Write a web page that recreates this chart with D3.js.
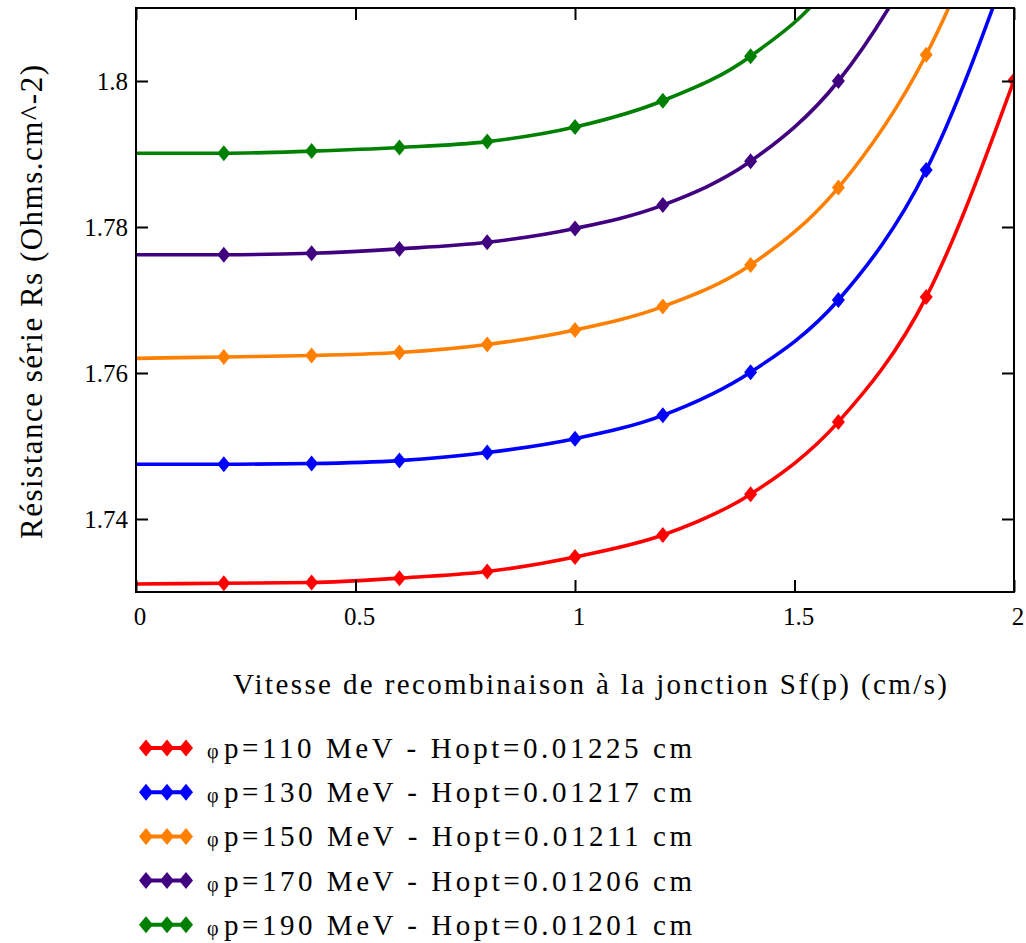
<!DOCTYPE html>
<html>
<head>
<meta charset="utf-8">
<script src="https://cdn.jsdelivr.net/npm/d3@7"></script>
</head>
<body style="margin:0">
<svg id="chart" width="1026" height="943"></svg>
<script>
// Sf(p) sample points (cm/s)
const sfValues = [0, 0.2, 0.4, 0.6, 0.8, 1.0, 1.2, 1.4, 1.6, 1.8, 2.0];

// Rs values (points past the top edge are estimates, clipped)
const rs110 = [1.7311, 1.7312, 1.7313, 1.7319, 1.7328, 1.7348, 1.7378, 1.7434, 1.7533, 1.7704, 1.8001];
const rs130 = [1.7475, 1.7475, 1.7476, 1.7480, 1.7491, 1.7510, 1.7542, 1.7601, 1.7700, 1.7878, 1.8180];
const rs150 = [1.7620, 1.7622, 1.7624, 1.7628, 1.7639, 1.7659, 1.7691, 1.7748, 1.7854, 1.8036, 1.8320];
const rs170 = [1.7762, 1.7762, 1.7764, 1.7770, 1.7779, 1.7798, 1.7830, 1.7890, 1.8000, 1.8190, 1.8450];
const rs190 = [1.7901, 1.7901, 1.7904, 1.7909, 1.7917, 1.7937, 1.7973, 1.8034, 1.8150, 1.8400, 1.8800];

const seriesLabels = [
  "110 MeV - Hopt=0.01225 cm",
  "130 MeV - Hopt=0.01217 cm",
  "150 MeV - Hopt=0.01211 cm",
  "170 MeV - Hopt=0.01206 cm",
  "190 MeV - Hopt=0.01201 cm"
];
const seriesColors = ["#ff0000", "#0000ff", "#ff8000", "#400080", "#008000"];

const xTicks = [0, 0.5, 1, 1.5, 2];
const xTickLabels = ["0", "0.5", "1", "1.5", "2"];
const yTicks = [1.74, 1.76, 1.78, 1.8];
const yTickLabels = ["1.74", "1.76", "1.78", "1.8"];

const series = [rs110, rs130, rs150, rs170, rs190].map((vals, i) => ({
  label: seriesLabels[i],
  color: seriesColors[i],
  points: sfValues.map((x, j) => ({ x: x, y: vals[j] }))
}));

const FONT = "Liberation Serif";
const plotLeft = 136, plotTop = 8, plotRight = 1014, plotBottom = 592;

const svg = d3.select("#chart");

const x = d3.scaleLinear().domain([0, 2]).range([plotLeft, plotRight]);
const y = d3.scaleLinear().domain([1.73, 1.81]).range([plotBottom, plotTop]);

// Text first, set the same way as on the font test page
svg.append("text")
  .attr("class", "lbl")
  .attr("transform", "translate(42,302) rotate(-90)")
  .attr("text-anchor", "middle")
  .attr("font-family", d => FONT)
  .attr("font-size", 31)
  .attr("textLength", 474)
  .attr("lengthAdjust", "spacing")
  .text("Résistance série Rs (Ohms.cm^-2)");

svg.append("text")
  .attr("class", "lbl")
  .attr("x", 590)
  .attr("y", 694)
  .attr("text-anchor", "middle")
  .attr("font-family", d => FONT)
  .attr("font-size", 29)
  .attr("textLength", 714)
  .attr("lengthAdjust", "spacing")
  .text("Vitesse de recombinaison à la jonction Sf(p) (cm/s)");

svg.selectAll("text.xt")
  .data(xTicks)
  .join("text")
  .attr("class", "xt lbl")
  .attr("x", d => x(d) + 4)
  .attr("y", plotBottom + 33)
  .attr("text-anchor", "middle")
  .attr("font-family", d => FONT)
  .attr("font-size", 25)
  .text((d, i) => xTickLabels[i]);

svg.selectAll("text.yt")
  .data(yTicks)
  .join("text")
  .attr("class", "yt lbl")
  .attr("x", plotLeft - 8)
  .attr("y", d => y(d))
  .attr("dy", "0.35em")
  .attr("text-anchor", "end")
  .attr("font-family", d => FONT)
  .attr("font-size", 25)
  .text((d, i) => yTickLabels[i]);

svg.append("defs").append("clipPath")
  .attr("id", "plot-clip")
  .append("rect")
  .attr("x", plotLeft).attr("y", plotTop)
  .attr("width", plotRight - plotLeft).attr("height", plotBottom - plotTop);

// Curves
const line = d3.line()
  .x(d => x(d.x))
  .y(d => y(d.y))
  .curve(d3.curveMonotoneX);

const plot = svg.append("g").attr("clip-path", "url(#plot-clip)");

// slightly tall diamond, as in the Mathcad plot
function diamond(w, h) {
  return `M0,${-h}L${w},0L0,${h}L${-w},0Z`;
}

series.forEach(s => {
  plot.append("path")
    .datum(s.points)
    .attr("fill", "none")
    .attr("stroke", s.color)
    .attr("stroke-width", 3.6)
    .attr("stroke-linejoin", "round")
    .attr("d", line);

  plot.append("g")
    .selectAll("path")
    .data(s.points.filter(p => p.x > 0))
    .join("path")
    .attr("transform", d => `translate(${x(d.x)},${y(d.y)})`)
    .attr("d", diamond(6.5, 8))
    .attr("fill", s.color);
});

// Tick marks only (ticks pointing inward on all four sides), labels drawn above
const tickSize = 12;
const axes = [
  svg.append("g").attr("transform", `translate(0,${plotBottom})`)
    .call(d3.axisBottom(x).tickValues(xTicks).tickSizeInner(-tickSize).tickSizeOuter(0).tickFormat("")),
  svg.append("g").attr("transform", `translate(0,${plotTop})`)
    .call(d3.axisTop(x).tickValues(xTicks).tickSizeInner(-tickSize).tickSizeOuter(0).tickFormat("")),
  svg.append("g").attr("transform", `translate(${plotLeft},0)`)
    .call(d3.axisLeft(y).tickValues(yTicks).tickSizeInner(-tickSize).tickSizeOuter(0).tickFormat("")),
  svg.append("g").attr("transform", `translate(${plotRight},0)`)
    .call(d3.axisRight(y).tickValues(yTicks).tickSizeInner(-tickSize).tickSizeOuter(0).tickFormat(""))
];
axes.forEach(a => {
  a.select(".domain").remove();
  a.selectAll("text").remove();
  a.selectAll("line").attr("stroke", "#000").attr("stroke-width", 2);
});

// Frame
svg.append("rect")
  .attr("x", plotLeft).attr("y", plotTop)
  .attr("width", plotRight - plotLeft).attr("height", plotBottom - plotTop)
  .attr("fill", "none")
  .attr("stroke", "#000")
  .attr("stroke-width", 2);

// Legend
const legend = svg.append("g");
const legendRows = legend.selectAll("g")
  .data(series)
  .join("g")
  .attr("transform", (d, i) => `translate(0,${748 + i * 44.2})`);

legendRows.append("line")
  .attr("x1", 141).attr("x2", 191)
  .attr("stroke", d => d.color)
  .attr("stroke-width", 4);

legendRows.selectAll("path")
  .data(d => [146, 167, 186].map(px => ({ px: px, color: d.color })))
  .join("path")
  .attr("transform", d => `translate(${d.px},0)`)
  .attr("d", diamond(7, 8.5))
  .attr("fill", d => d.color);

legendRows.append("text")
  .attr("class", "lbl")
  .attr("x", 207)
  .attr("y", 10)
  .attr("font-family", d => FONT)
  .attr("font-size", 20)
  .text("φ");

legendRows.append("text")
  .attr("class", "lbl")
  .attr("x", 224)
  .attr("y", 10)
  .attr("font-family", d => FONT)
  .attr("font-size", 29)
  .attr("textLength", 468)
  .attr("lengthAdjust", "spacing")
  .text(d => "p=" + d.label);

// re-apply the family once the font is known to be ready
if (document.fonts && document.fonts.load) {
  document.fonts.load('29px "Liberation Serif"').then(() => {
    svg.selectAll("text.lbl").attr("font-family", FONT);
  });
}
</script>
</body>
</html>
